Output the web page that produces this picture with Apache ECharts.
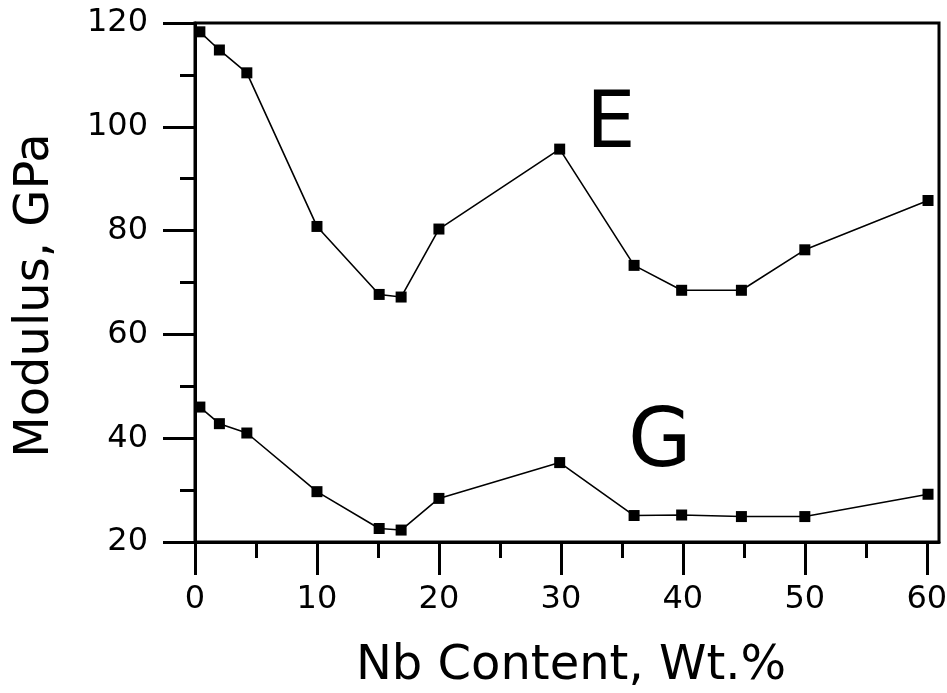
<!DOCTYPE html>
<html>
<head>
<meta charset="utf-8">
<script src="https://cdn.jsdelivr.net/npm/echarts@6/dist/echarts.min.js"></script>
<style>
  html, body { margin: 0; padding: 0; background: #fff; }
  #chart { width: 947px; height: 693px; }
</style>
</head>
<body>
<div id="chart"></div>
<script>
// Nb content (wt.%) and moduli
var nbContent = [0.4, 2.0, 4.25, 10.0, 15.1, 16.9, 20.0, 29.9, 36.0, 39.9, 44.8, 50.0, 60.1];
var youngE    = [118.3, 114.8, 110.4, 80.8, 67.7, 67.2, 80.3, 95.7, 73.3, 68.5, 68.5, 76.3, 85.8];
var shearG    = [46.0, 42.8, 41.0, 29.7, 22.6, 22.3, 28.4, 35.3, 25.1, 25.2, 24.9, 24.9, 29.2];

var xMajorTicks = [0, 10, 20, 30, 40, 50, 60];
var xMinorTicks = [5, 15, 25, 35, 45, 55];

// curve labels placed in data coordinates
var curveLabels = [
  { name: 'E', coord: [34.1, 100.0] },
  { name: 'G', coord: [38.1, 38.8] }
];

var FONT = 'DejaVu Sans';

function pairs(xs, ys) {
  return xs.map(function (x, i) { return [x, ys[i]]; });
}

var chart = echarts.init(document.getElementById('chart'));

var lineSeries = function (name, ys, label, labelSize) {
  return {
    name: name,
    type: 'line',
    xAxisIndex: 0,
    data: pairs(nbContent, ys),
    symbol: 'rect',
    symbolSize: 11,
    showSymbol: true,
    animation: false,
    lineStyle: { color: '#000', width: 1.6 },
    itemStyle: { color: '#000' },
    markPoint: {
      symbol: 'rect',
      symbolSize: 1,
      itemStyle: { color: 'transparent' },
      label: {
        show: true,
        position: 'inside',
        formatter: '{b}',
        color: '#000',
        fontFamily: FONT,
        fontSize: labelSize
      },
      data: [label]
    }
  };
};

var option = {
  backgroundColor: '#fff',
  animation: false,
  grid: {
    left: 195, top: 23, right: 8, bottom: 151,
    outerBoundsMode: 'none',
    containLabel: false,
    show: true,
    borderColor: '#000',
    borderWidth: 3,
    backgroundColor: 'transparent'
  },
  xAxis: [{
    type: 'value',
    position: 'bottom',
    min: 0,
    max: 61,
    name: 'Nb Content, Wt.%',
    nameLocation: 'middle',
    nameGap: 101,
    nameTextStyle: { fontFamily: FONT, fontSize: 48, color: '#000', padding: [0, 0, 0, 8] },
    axisLine: { show: true, lineStyle: { color: '#000', width: 3 } },
    axisTick: { show: true, customValues: xMajorTicks, length: 33, lineStyle: { color: '#000', width: 3 } },
    axisLabel: { customValues: xMajorTicks, margin: 42, fontFamily: FONT, fontSize: 32, color: '#000' },
    splitLine: { show: false }
  }, {
    type: 'value',
    position: 'bottom',
    min: 0,
    max: 61,
    axisLine: { show: false },
    axisTick: { show: true, customValues: xMinorTicks, length: 16, lineStyle: { color: '#000', width: 3 } },
    axisLabel: { show: false },
    splitLine: { show: false }
  }],
  yAxis: {
    type: 'value',
    min: 20,
    max: 120,
    interval: 20,
    name: 'Modulus, GPa',
    nameLocation: 'middle',
    nameGap: 135,
    nameTextStyle: { fontFamily: FONT, fontSize: 48, color: '#000', padding: [0, 26, 0, 0] },
    axisLine: { show: true, lineStyle: { color: '#000', width: 3 } },
    axisTick: { show: true, length: 32, lineStyle: { color: '#000', width: 3 } },
    minorTick: { show: true, splitNumber: 2, length: 15, lineStyle: { color: '#000', width: 3 } },
    axisLabel: { margin: 47, fontFamily: FONT, fontSize: 32, color: '#000' },
    splitLine: { show: false }
  },
  series: [
    lineSeries('E', youngE, curveLabels[0], 78),
    lineSeries('G', shearG, curveLabels[1], 82)
  ]
};

chart.setOption(option);
</script>
</body>
</html>
